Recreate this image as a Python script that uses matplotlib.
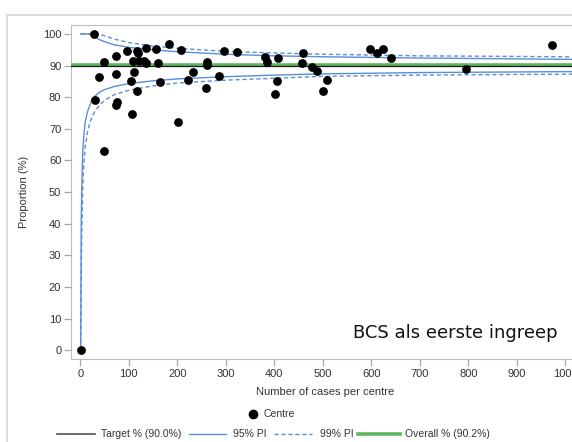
import matplotlib
matplotlib.use("Agg")
import matplotlib.pyplot as plt
from matplotlib.lines import Line2D
from matplotlib.patches import Rectangle

# ---- data ----
centre_n = [2, 29, 30, 38, 48, 48, 74, 74, 75, 74, 96, 104, 107, 108, 111, 116, 120, 118,
            122, 132, 135, 136, 156, 161, 164, 182, 201, 207, 222, 232, 260, 261, 261, 287,
            296, 323, 381, 385, 402, 405, 407, 460, 457, 478, 487, 500, 508, 598, 612, 623,
            641, 795, 972]
centre_pct = [0, 100, 79.1, 86.3, 91.2, 63.1, 93.0, 87.5, 78.6, 77.5, 94.7, 85.2, 74.7, 91.6,
              88.1, 94.7, 94.1, 82.1, 91.5, 91.5, 90.9, 95.6, 95.3, 90.7, 84.7, 96.7, 72.1,
              94.9, 85.4, 87.9, 83.0, 91.1, 90.2, 86.7, 94.7, 94.2, 92.7, 91.2, 81.1, 85.2,
              92.5, 94.1, 90.7, 89.5, 88.4, 82.1, 85.3, 95.3, 94.1, 95.3, 92.5, 88.9, 96.4]

target_pct = 90.0
overall_pct = 90.2

lim_n = [1, 2, 3, 5, 7, 10, 15, 20, 25, 30, 40, 50, 70, 100, 150, 200, 300, 400, 500, 700, 1000, 1050]
upper95 = [100, 100, 100, 100, 100, 100, 100, 100, 99.4, 99.0, 98.2, 97.6, 96.6, 95.8, 95.0,
           94.4, 93.6, 93.1, 92.8, 92.4, 92.0, 91.9]
upper99 = [100, 100, 100, 100, 100, 100, 100, 100, 100, 100, 100, 99.4, 98.4, 97.3, 96.2,
           95.5, 94.5, 94.0, 93.6, 93.1, 92.8, 92.7]
lower95 = [0, 40, 50, 62, 67, 72, 75.5, 77.5, 79.5, 80.3, 81.6, 82.4, 83.4, 84.3, 85.2,
           85.8, 86.5, 87.0, 87.4, 87.8, 88.1, 88.1]
lower99 = [0, 20, 35, 50, 58, 64, 69, 72, 74, 75.5, 77.5, 79.0, 80.8, 82.2, 83.6,
           84.5, 85.4, 86.0, 86.6, 87.0, 87.3, 87.4]

x_ticks = [0, 100, 200, 300, 400, 500, 600, 700, 800, 900, 1000]
y_ticks = [0, 10, 20, 30, 40, 50, 60, 70, 80, 90, 100]

W, H = 572, 442
fig = plt.figure(figsize=(W / 100, H / 100), dpi=100)
plt.rcParams['font.family'] = ['Liberation Sans', 'DejaVu Sans']


def fx(px):
    return px / W


def fy(py):
    return 1 - py / H


# outer frame (cropped)
fig.add_artist(Rectangle((7 / W, -0.2), 1.2, 1 - 15 / H + 0.2, transform=fig.transFigure,
                         fill=False, edgecolor='#d4d4d4', linewidth=1.2))

ax = fig.add_axes([71 / W, 1 - 359.3 / H, 509 / W, 334.3 / H])
ax.set_xlim(-19, 1030)
ax.set_ylim(-2.9, 102.85)

blue = '#5b8ed6'
green = '#5fb55f'
ax.plot(lim_n, upper95, color=blue, lw=1.0, zorder=2)
ax.plot(lim_n, lower95, color=blue, lw=1.0, zorder=2)
ax.plot(lim_n, upper99, color=blue, lw=1.0, ls=(0, (3, 2)), zorder=2)
ax.plot(lim_n, lower99, color=blue, lw=1.0, ls=(0, (3, 2)), zorder=2)
ax.axhline(overall_pct, color=green, lw=2.6, zorder=3)
ax.axhline(target_pct, color='#1a1a1a', lw=0.9, zorder=3)
ax.scatter(centre_n, centre_pct, s=40, color='black', zorder=5, linewidths=0)

ax.set_xticks(x_ticks)
ax.set_yticks(y_ticks)
for s in ax.spines.values():
    s.set_color('#bdbdbd')
ax.tick_params(direction='out', length=5, width=0.9, color='#a8a8a8', labelsize=8,
               labelcolor='#333333', pad=2)
ax.set_xlabel('Number of cases per centre', fontsize=8, color='#333333', labelpad=6)
ax.set_ylabel('Proportion (%)', fontsize=8, color='#333333', labelpad=10)

fig.text(fx(455), fy(333), 'BCS als eerste ingreep', fontsize=13, family='DejaVu Sans',
         ha='center', va='center', color='#111111')

# legend (manual)
fig.add_artist(Line2D([fx(253)], [fy(414)], marker='o', markersize=6, color='black',
                      transform=fig.transFigure, linestyle='none'))
fig.text(fx(263), fy(414), 'Centre', fontsize=7.5, color='#333333', va='center', ha='left')

yl = fy(434)
items = [
    (57, 95, dict(color='#555555', lw=1.2), 101, 'Target % (90.0%)'),
    (189, 226, dict(color=blue, lw=1.0), 233, '95% PI'),
    (274, 312, dict(color=blue, lw=1.0, ls=(0, (3, 2))), 320, '99% PI'),
    (358, 400, dict(color=green, lw=2.6), 405, 'Overall % (90.2%)'),
]
for x0, x1, kw, tx, lab in items:
    fig.add_artist(Line2D([fx(x0), fx(x1)], [yl, yl], transform=fig.transFigure, **kw))
    fig.text(fx(tx), yl, lab, fontsize=7.5, color='#333333', va='center', ha='left')

fig.savefig('out.png', dpi=100)
